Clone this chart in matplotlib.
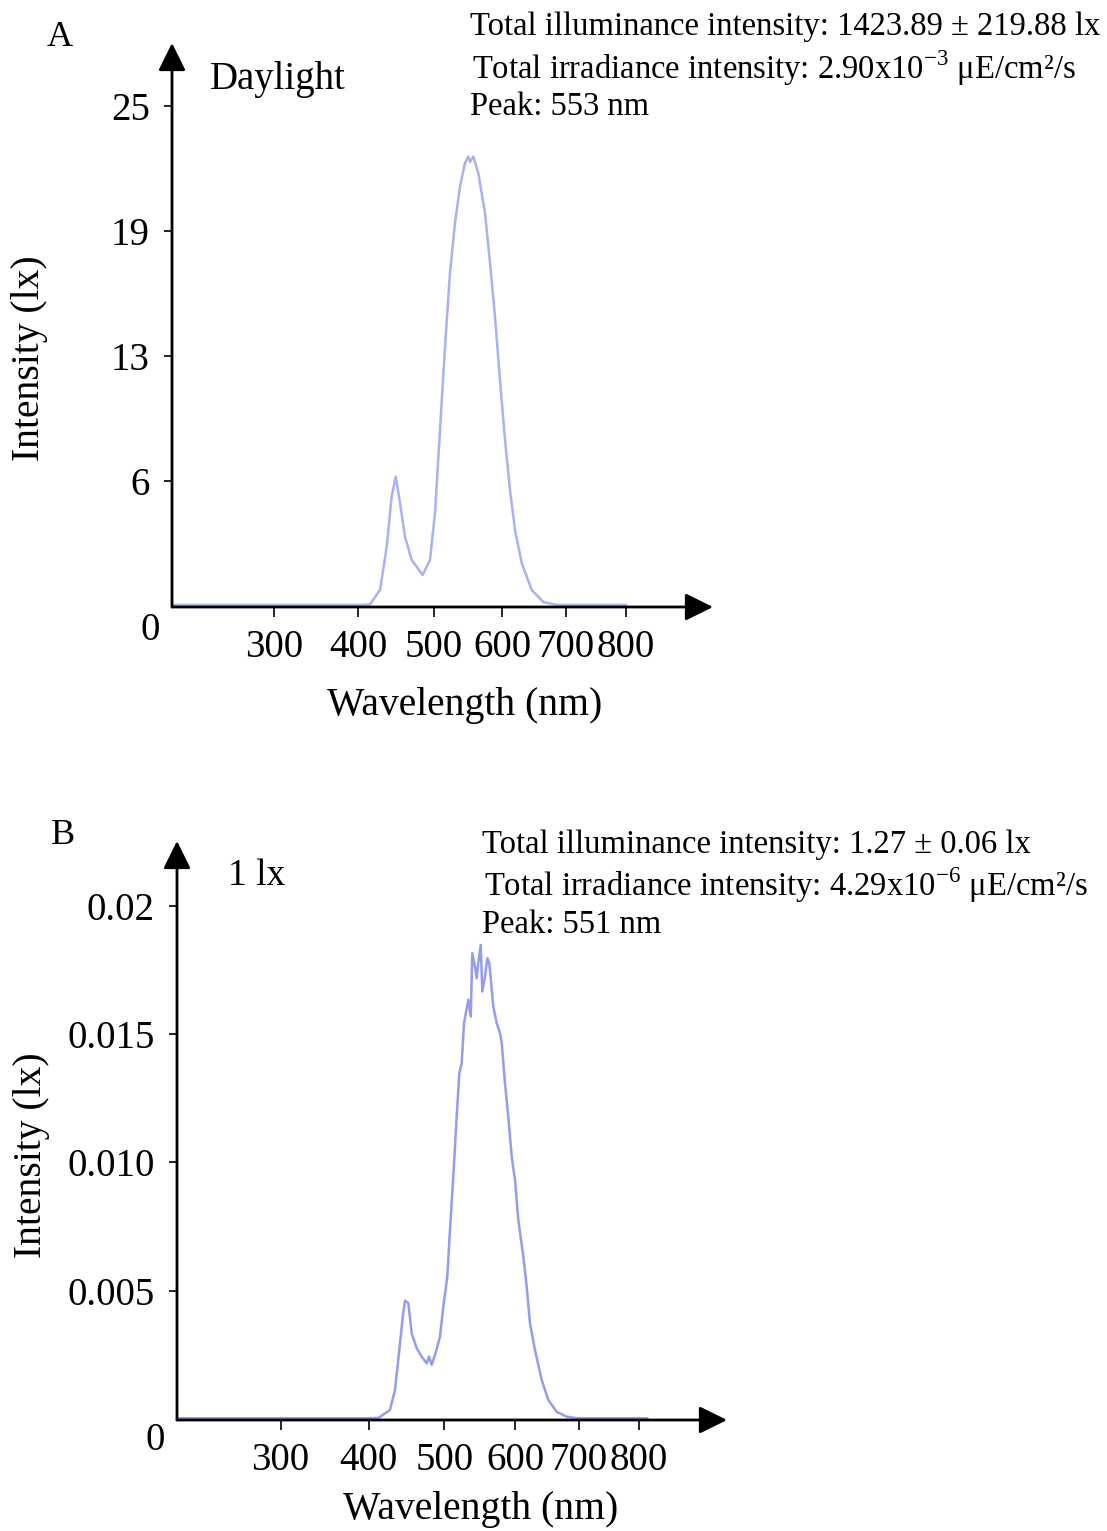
import numpy as np
import matplotlib
matplotlib.use('Agg')
import matplotlib.pyplot as plt

plt.rcParams['font.family'] = ['Liberation Serif', 'DejaVu Serif']
plt.rcParams['mathtext.fontset'] = 'custom'
plt.rcParams['mathtext.rm'] = 'Liberation Serif'

# panel A, daylight spectrum (nm, lx)
wl_a = [180, 300, 400, 415.8, 429, 437.8, 444.3, 449.6, 455.3, 461.8, 470.7, 485.1,
        494.7, 501.5, 508.8, 516.2, 523.5, 530.9, 538.2, 545.6, 550.4, 553, 557.8,
        565.1, 575, 582.4, 589.7, 597, 604.7, 612.5, 620.3, 630.8, 646.4, 664.5,
        685.5, 720, 800]
int_a = [0.05, 0.05, 0.05, 0.08, 0.8, 2.97, 5.47, 6.47, 5.15, 3.47, 2.3, 1.55,
         2.3, 4.65, 8.8, 12.97, 16.65, 19.15, 20.97, 22.15, 22.47, 22.2, 22.47,
         21.65, 19.65, 17.15, 14.47, 11.3, 8.3, 5.8, 3.8, 2.15, 0.8, 0.2,
         0.05, 0.05, 0.05]

# panel B, 1 lx spectrum
wl_b = [180, 300, 400, 412.9, 428.3, 434.9, 440.6, 445.1, 448.1, 452.5, 456.9, 463.5,
        470.1, 476.7, 479.7, 483.3, 488.9, 494.2, 498.6, 504.1, 507.9, 512.6, 517.4,
        521.1, 524.5, 527.8, 533.9, 537.3, 539.5, 543.3, 545.7, 548, 551.4, 553.7,
        557.5, 560.8, 563.6, 569.3, 574.1, 578.8, 581.2, 585.8, 590.5, 595.3, 600,
        605.2, 613, 618.3, 623.5, 631.3, 641.8, 652.2, 665.3, 681, 696.7, 750, 815]
int_b = [0.00003, 0.00003, 0.00003, 0.00004, 0.00035, 0.00113, 0.00269, 0.00399,
         0.00461, 0.00451, 0.00334, 0.00276, 0.00243, 0.00217, 0.00243, 0.00211,
         0.00262, 0.00321, 0.00438, 0.00555, 0.00737, 0.00945, 0.01179, 0.01348,
         0.01387, 0.01543, 0.01634, 0.01568, 0.01816, 0.01763, 0.01718, 0.01777,
         0.01848, 0.01666, 0.01725, 0.01796, 0.01777, 0.01607, 0.01543, 0.01504,
         0.01465, 0.01309, 0.01179, 0.01023, 0.00932, 0.00776, 0.00633, 0.00516,
         0.00373, 0.00269, 0.00152, 0.00074, 0.00028, 0.00009, 0.00003, 0.00003,
         0.00003]

xticks = [300, 400, 500, 600, 700, 800]
yticks_a = [6.25, 12.5, 18.75, 25]
ylabels_a = ['6', '13', '19', '25']
yticks_b = [0.005, 0.010, 0.015, 0.02]
ylabels_b = ['0.005', '0.010', '0.015', '0.02']

W, H = 1107, 1531
fig = plt.figure(figsize=(W / 100, H / 100), dpi=100)


def fx(px):
    return px / W


def fy(py):
    return 1 - py / H


def panel(box, knots_pos, wl, inten, ylim, yticks, ylabels, color):
    left, right, top, bottom = box
    ax = fig.add_axes([fx(left), fy(bottom), fx(right - left), (bottom - top) / H])
    # spectrometer axis is not linear in wavelength
    knots_nm = [180, 300, 400, 500, 600, 700, 800, 960]
    fwd = lambda x: np.interp(x, knots_nm, knots_pos)
    inv = lambda x: np.interp(x, knots_pos, knots_nm)
    ax.set_xscale('function', functions=(fwd, inv))
    ax.plot(wl, inten, color=color, lw=1.8, solid_joinstyle='round')
    ax.set_xlim(180, 960)
    ax.set_ylim(*ylim)
    for s in ax.spines.values():
        s.set_visible(False)
    ax.set_xticks(xticks)
    ax.set_xticklabels([str(t) for t in xticks])
    ax.set_yticks(yticks)
    ax.set_yticklabels(ylabels)
    ax.xaxis.set_minor_locator(matplotlib.ticker.NullLocator())
    ax.tick_params(axis='x', direction='out', length=7, width=1.2, pad=9, labelsize=28)
    ax.tick_params(axis='y', direction='out', length=6, width=1.2, pad=10, labelsize=28)
    arrow = dict(arrowstyle='-|>,head_length=0.85,head_width=0.42', lw=2.0,
                 color='k', mutation_scale=20, shrinkA=0, shrinkB=0)
    ax.annotate('', xy=(1, 0), xytext=(0, 0), xycoords='axes fraction',
                arrowprops=arrow, annotation_clip=False)
    ax.annotate('', xy=(0, 1), xytext=(0, 0), xycoords='axes fraction',
                arrowprops=arrow, annotation_clip=False)
    return ax


panel((172, 713, 43, 607), [0, 102, 186, 262, 330, 394, 454, 541],
      wl_a, int_a, (-0.05, 28.15), yticks_a, ylabels_a, '#aab0f4')
panel((177, 727, 841, 1420), [0, 103.5, 191.5, 267.4, 338, 401.8, 462, 550],
      wl_b, int_b, (-0.00004, 0.02253), yticks_b, ylabels_b, '#949cf0')

# texts
fig.text(fx(60), fy(37), 'A', fontsize=26, ha='center', va='center')
fig.text(fx(63), fy(835), 'B', fontsize=26, ha='center', va='center')
fig.text(fx(210), fy(80), 'Daylight', fontsize=28, ha='left', va='center')
fig.text(fx(228), fy(876), '1 lx', fontsize=27, ha='left', va='center')
fig.text(fx(150), fy(631), '0', fontsize=28, ha='center', va='center')
fig.text(fx(155), fy(1441), '0', fontsize=28, ha='center', va='center')

fig.text(fx(465), fy(706), 'Wavelength (nm)', fontsize=28.5, ha='center', va='center')
fig.text(fx(481), fy(1510), 'Wavelength (nm)', fontsize=28.5, ha='center', va='center')
fig.text(fx(30), fy(358), 'Intensity (lx)', fontsize=28.5, rotation=90, ha='center', va='center')
fig.text(fx(32), fy(1155), 'Intensity (lx)', fontsize=28.5, rotation=90, ha='center', va='center')

fig.text(fx(470), fy(27), 'Total illuminance intensity: 1423.89 ± 219.88 lx',
         fontsize=23.5, ha='left', va='center')
fig.text(fx(472), fy(68), r'Total irradiance intensity: 2.90x10$^{\mathregular{-3}}$ μE/cm²/s',
         fontsize=23.5, ha='left', va='center')
fig.text(fx(470), fy(107), 'Peak: 553 nm', fontsize=23.5, ha='left', va='center')

fig.text(fx(482), fy(845), 'Total illuminance intensity: 1.27 ± 0.06 lx',
         fontsize=23.5, ha='left', va='center')
fig.text(fx(484), fy(885), r'Total irradiance intensity: 4.29x10$^{\mathregular{-6}}$ μE/cm²/s',
         fontsize=23.5, ha='left', va='center')
fig.text(fx(482), fy(925), 'Peak: 551 nm', fontsize=23.5, ha='left', va='center')

fig.savefig('out.png', dpi=100)
